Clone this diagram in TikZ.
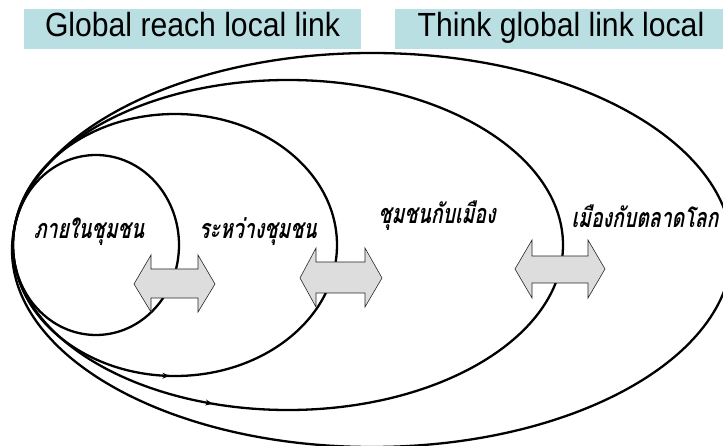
\documentclass[tikz,border=0pt]{standalone}
\usepackage{fontspec}
\setmainfont{Liberation Sans}
\newfontfamily\bannerfont[FakeStretch=0.9]{Liberation Sans}
\newfontfamily\thaifont[Script=Thai,FakeSlant=0.2,FakeStretch=0.72]{Loma}
\usetikzlibrary{decorations.markings,arrows.meta}
\definecolor{bannercyan}{HTML}{B9DFE3}
\definecolor{arrowgray}{HTML}{DDDDDD}
\begin{document}
\begin{tikzpicture}[x=1pt,y=-1pt,
  ring/.style={draw=black,line width=2.3pt},
  banner/.style={fill=bannercyan,draw=none,inner sep=0pt,anchor=north west},
  bannertext/.style={font=\bannerfont\fontsize{33.5}{36}\selectfont,anchor=base,inner sep=0pt},
  zonelabel/.style={font=\thaifont\bfseries\fontsize{27}{30}\selectfont,inner sep=0pt},
  swap/.style={draw=black!85,line width=0.6pt,fill=arrowgray,line join=miter},
  flowmark/.style={postaction={decorate},decoration={markings,
    mark=at position #1 with {\arrowreversed{Stealth[length=7pt,width=6pt]}}}}
]
\clip (0,0) rectangle (723,446);

% title bands
\node[banner,minimum width=337,minimum height=40] (band1) at (24,9) {};
\node[banner,minimum width=330,minimum height=40] (band2) at (395,9) {};
\node[bannertext] (title1) at (192.5,37) {Global reach local link};
\node[bannertext] (title2) at (561,37) {Think global link local};

% nested rings, all touching on the left
\draw[ring] (96,245) ellipse [x radius=83, y radius=90];
\draw[ring,flowmark=0.256] (175,245) ellipse [x radius=162, y radius=131];
\draw[ring,flowmark=0.304] (288,245) ellipse [x radius=275, y radius=165];
\draw[ring] (372,250) ellipse [x radius=360, y radius=197];

% two-way exchange arrows
\draw[swap] (134,284) -- (151,255) -- (151,269) -- (198,269) -- (198,255) -- (215,284)
  -- (198,312) -- (198,298) -- (151,298) -- (151,312) -- cycle;
\draw[swap] (300,278) -- (316,248) -- (316,262) -- (365,262) -- (365,248) -- (382,278)
  -- (365,307) -- (365,293) -- (316,293) -- (316,307) -- cycle;
\draw[swap] (515,269) -- (532,240) -- (532,256) -- (588,256) -- (588,240) -- (605,269)
  -- (588,298) -- (588,283) -- (532,283) -- (532,298) -- cycle;

% zone labels
\node[zonelabel] (zone1) at (89,232) {ภายในชุมชน};
\node[zonelabel] (zone2) at (258,232) {ระหว่างชุมชน};
\node[zonelabel] (zone3) at (437,216) {ชุมชนกับเมือง};
\node[zonelabel] (zone4) at (645,216) {เมืองกับตลาดโลก};
\end{tikzpicture}
\end{document}
